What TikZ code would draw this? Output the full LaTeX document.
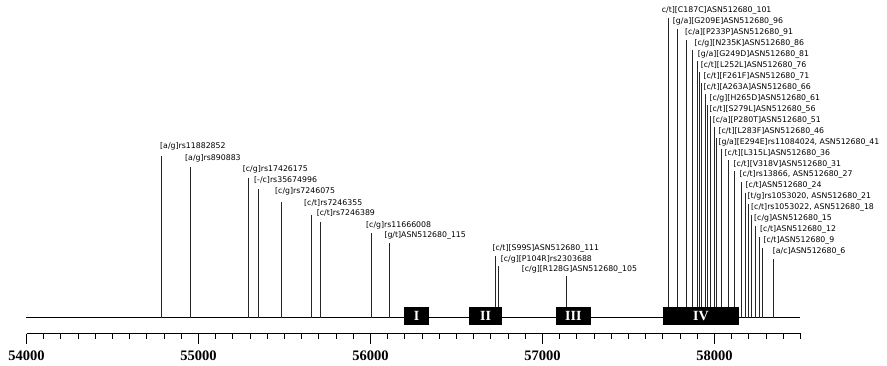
\documentclass[tikz,border=0pt]{standalone}
\usepackage{fontspec}
\setmainfont{Liberation Serif}
\newfontfamily\lblfont{DejaVu Sans}
\begin{document}
\begin{tikzpicture}[x=1pt,y=-1pt,
  snplbl/.style={anchor=west,inner sep=0pt,font=\lblfont\fontsize{7.8}{9}\selectfont},
  snpline/.style={line width=0.9pt,black!85},
  genel/.style={line width=1.6pt,black},
  axisl/.style={line width=1.5pt,black},
  tickl/.style={line width=1.1pt,black},
  numlbl/.style={inner sep=0pt,font=\fontsize{14.5}{16}\selectfont\bfseries},
  dombox/.style={fill=black,draw=none,minimum height=18pt,inner sep=0pt,text=white,
                 font=\fontsize{14}{16}\selectfont\bfseries}]
\useasboundingbox (0,0) rectangle (887,366);
% gene line
\coordinate (g0) at (26,317.7);
\coordinate (g1) at (800,317.7);
\draw[genel] (g0) -- (g1);
% SNP markers: id / text x / text y / line x / line top / text
\foreach \n/\tx/\ty/\lx/\tp/\txt in {
 1/160/146.7/161/156/{[a/g]rs11882852},
 2/185/158/190.3/167/{[a/g]rs890883},
 3/242.7/169/248.3/178/{[c/g]rs17426175},
 4/254/180/258.3/189.5/{[-/c]rs35674996},
 5/275/191.7/281/202/{[c/g]rs7246075},
 6/304/202.7/311/215/{[c/t]rs7246355},
 7/316.7/212.7/320.7/221.7/{[c/t]rs7246389},
 8/366/225/371/233/{[c/g]rs11666008},
 9/384.3/235/389.3/242.7/{[g/t]ASN512680\_115},
 10/492.3/248.3/495.5/256/{[c/t][S99S]ASN512680\_111},
 11/500.7/259/498/266/{[c/g][P104R]rs2303688},
 12/521.7/269.3/566/276/{[c/g][R128G]ASN512680\_105},
 13/661.7/10.7/668/17.7/{c/t][C187C]ASN512680\_101},
 14/672.7/21.65/677/28.6/{[g/a][G209E]ASN512680\_96},
 15/685/32.6/686/39.6/{[c/a][P233P]ASN512680\_91},
 16/694.3/43.55/692.5/50.5/{[c/g][N235K]ASN512680\_86},
 17/697.7/54.5/697/61.5/{[g/a][G249D]ASN512680\_81},
 18/700.7/65.45/699.5/72.4/{[c/t][L252L]ASN512680\_76},
 19/703.3/76.4/701.7/83.4/{[c/t][F261F]ASN512680\_71},
 20/703.3/87.35/705.5/94.3/{[c/t][A263A]ASN512680\_66},
 21/709.3/98.3/707.5/105.3/{[c/g][H265D]ASN512680\_61},
 22/709.3/109.25/710.5/116.2/{[c/t][S279L]ASN512680\_56},
 23/712.7/120.2/714/127.2/{[c/a][P280T]ASN512680\_51},
 24/718.3/131.15/716.5/138.1/{[c/t][L283F]ASN512680\_46},
 25/718.3/142.1/721/149.1/{[g/a][E294E]rs11084024, ASN512680\_41},
 26/724.5/153.05/728/160/{[c/t][L315L]ASN512680\_36},
 27/733.5/164/734.5/171/{[c/t][V318V]ASN512680\_31},
 28/739.5/174.95/741.5/181.9/{[c/t]rs13866, ASN512680\_27},
 29/745.5/185.9/745/192.9/{[c/t]ASN512680\_24},
 30/747.5/196.85/748/203.8/{[t/g]rs1053020, ASN512680\_21},
 31/751/207.8/751/214.8/{[c/t]rs1053022, ASN512680\_18},
 32/754/218.75/755/225.7/{[c/g]ASN512680\_15},
 33/760/229.7/759/236.7/{[c/t]ASN512680\_12},
 34/763.3/240.65/762/247.6/{[c/t]ASN512680\_9},
 35/772.7/251.6/773/258.6/{[a/c]ASN512680\_6}}{
  \node[snplbl] (L\n) at (\tx,\ty) {\txt};
  \coordinate (B\n) at (\lx,317.7);
  \coordinate (T\n) at (\lx,\tp);
  \draw[snpline] (B\n) -- (T\n);
}
% domains
\node[dombox,minimum width=25pt] (dI) at (416.5,316) {I};
\node[dombox,minimum width=32.4pt] (dII) at (485.5,316) {II};
\node[dombox,minimum width=34.7pt] (dIII) at (573.3,316) {III};
\node[dombox,minimum width=76.6pt] (dIV) at (701,316) {IV};
% scale axis
\coordinate (a0) at (26.5,333.7);
\coordinate (a1) at (800.5,333.7);
\draw[axisl] (a0) -- (a1);
\foreach \i in {0,...,45}{
  \pgfmathtruncatemacro{\r}{mod(\i,10)}
  \pgfmathsetmacro{\xx}{26.5+\i*17.2}
  \coordinate (ta\i) at (\xx,333.7);
  \ifnum\r=0
    \coordinate (tb\i) at (\xx,344.5);
  \else
    \coordinate (tb\i) at (\xx,338.8);
  \fi
  \draw[tickl] (ta\i) -- (tb\i);
}
\foreach \i/\v in {0/54000,10/55000,20/56000,30/57000,40/58000}{
  \pgfmathsetmacro{\xx}{26.5+\i*17.2}
  \node[numlbl] (n\v) at (\xx,356) {\v};
}
\end{tikzpicture}
\end{document}
